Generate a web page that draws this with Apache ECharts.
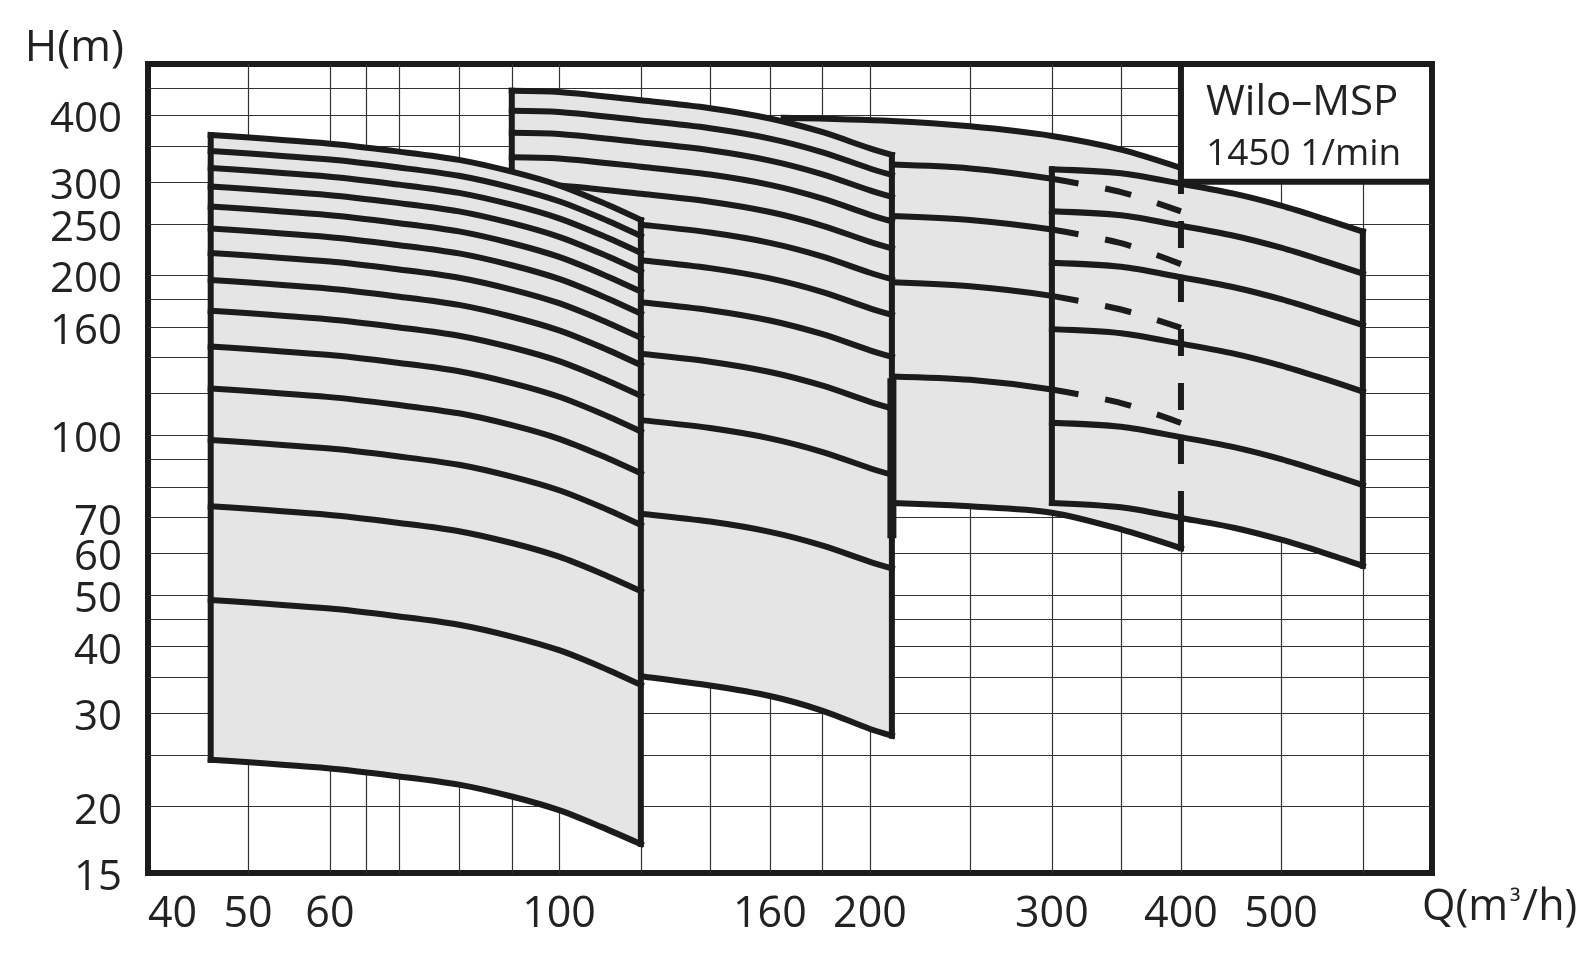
<!DOCTYPE html>
<html><head><meta charset="utf-8">
<script src="https://cdn.jsdelivr.net/npm/echarts@6/dist/echarts.min.js"></script>
<style>html,body{margin:0;padding:0;background:#fff}#c{width:1588px;height:961px}</style>
</head><body><div id="c"></div>
<script>
// ---------- axes ----------
const Q_GRID = [50,60,65,70,80,90,100,120,140,160,180,200,250,300,350,400,500,600];
const H_GRID = [20,25,30,35,40,45,50,60,70,80,90,100,120,140,160,180,200,250,300,350,400,450];
const Q_LABELS = [40,50,60,100,160,200,300,400,500];
const H_LABELS = [15,20,30,40,50,60,70,100,160,200,250,300,400];

// ---------- group 1 (Q 46..120), curves from 1 to 15 stages ----------
const G1_Q = [46, 60, 70, 80, 90, 100, 110, 120];
const G1_H = [
  [24.5, 23.6, 22.8, 22.0, 20.9, 19.7, 18.3, 17.0],
  [49.0, 47.2, 45.6, 44.0, 41.8, 39.4, 36.6, 33.9],
  [73.5, 70.8, 68.4, 66.0, 62.7, 59.1, 54.9, 50.9],
  [98.0, 94.4, 91.2, 88.0, 83.6, 78.8, 73.2, 67.8],
  [122.5, 118.0, 114.0, 110.0, 104.5, 98.5, 91.5, 84.8],
  [147.0, 141.6, 136.8, 132.0, 125.4, 118.2, 109.8, 101.7],
  [171.5, 165.2, 159.6, 154.0, 146.3, 137.9, 128.1, 118.7],
  [196.0, 188.8, 182.4, 176.0, 167.2, 157.6, 146.4, 135.6],
  [220.5, 212.4, 205.2, 198.0, 188.1, 177.3, 164.7, 152.6],
  [245.0, 236.0, 228.0, 220.0, 209.0, 197.0, 183.0, 169.5],
  [269.5, 259.6, 250.8, 242.0, 229.9, 216.7, 201.3, 186.5],
  [294.0, 283.2, 273.6, 264.0, 250.8, 236.4, 219.6, 203.4],
  [318.5, 306.8, 296.4, 286.0, 271.7, 256.1, 237.9, 220.4],
  [343.0, 330.4, 319.2, 308.0, 292.6, 275.8, 256.2, 237.3],
  [367.5, 354.0, 342.0, 330.0, 313.5, 295.5, 274.5, 254.3]
];

// ---------- group 2 (Q 90..210), 1 to 12 stages ----------
const G2_Q = [90, 100, 120, 140, 160, 180, 200, 210];
const G2_H = [
  [37.0, 36.8, 35.2, 33.8, 32.3, 30.3, 28.0, 27.2],
  [74.2, 73.8, 71.2, 68.8, 65.8, 62.0, 57.8, 56.2],
  [111.3, 110.7, 106.8, 103.2, 98.7, 93.0, 86.7, 84.3],
  [148.4, 147.6, 142.4, 137.6, 131.6, 124.0, 115.6, 112.4],
  [185.5, 184.5, 178.0, 172.0, 164.5, 155.0, 144.5, 140.5],
  [222.6, 221.4, 213.6, 206.4, 197.4, 186.0, 173.4, 168.6],
  [259.7, 258.3, 249.2, 240.8, 230.3, 217.0, 202.3, 196.7],
  [296.8, 295.2, 284.8, 275.2, 263.2, 248.0, 231.2, 224.8],
  [333.9, 332.1, 320.4, 309.6, 296.1, 279.0, 260.1, 252.9],
  [371.0, 369.0, 356.0, 344.0, 329.0, 310.0, 289.0, 281.0],
  [408.1, 405.9, 391.6, 378.4, 361.9, 341.0, 317.9, 309.1],
  [445.2, 442.8, 427.2, 412.8, 394.8, 372.0, 346.8, 337.2]
];

// ---------- group 3 (Q 165..400) ----------
const G3_Q = [165, 210, 250, 300, 350, 400];
const G3_H = [
  [75.2, 74.6, 73.5, 71.5, 66.5, 61.3],
  [null, 129.1, 127.2, 122.0, 115.0, 105.5],
  [null, 194.1, 190.8, 183.0, 172.5, 159.3],
  [null, 258.8, 254.4, 244.0, 230.0, 210.0],
  [null, 323.3, 318.0, 304.0, 287.0, 264.0],
  [396.0, 390.6, 381.6, 366.0, 345.0, 318.6]
];
const G3_DASH_FROM_Q = 300;

// ---------- group 4 (Q 300..600) ----------
const G4_Q = [300, 350, 400, 450, 500, 550, 600];
const G4_H = [
  [74.6, 73.2, 69.9, 67.0, 63.6, 60.1, 56.8],
  [105.6, 103.8, 99.2, 95.0, 90.2, 85.2, 80.6],
  [158.4, 155.7, 148.8, 142.5, 135.3, 127.8, 120.9],
  [211.2, 207.6, 198.4, 190.0, 180.4, 170.4, 161.2],
  [264.0, 259.5, 248.0, 237.5, 225.5, 213.0, 201.5],
  [316.8, 311.4, 297.6, 285.0, 270.6, 255.6, 241.8]
];

// short heavy segment on the Q=210 edge
const BAR_Q = [210, 210];
const BAR_H = [64, 128];

// info box
const BOX_Q = [400, 700];
const BOX_H = [300, 500];
const BOX_TEXT = ['Wilo\u2013MSP', '1450 1/min'];

// ---------- styles ----------
const INK = '#1b1b1b';
const FILL = '#e5e5e5';
const GRIDC = '#333333';
const FONT = 'Open Sans';
const LW = 6;

function pairs(qs, hs) {
  const d = [];
  qs.forEach((q, i) => { if (hs[i] != null) d.push([q, hs[i]]); });
  return d;
}
function fillSeries(qs, bottom, top, z) {
  const pts = pairs(qs, top).concat(pairs(qs, bottom).reverse());
  return {
    type: 'custom', coordinateSystem: 'cartesian2d', silent: true, z: z, data: pts,
    animation: false,
    renderItem: function (params, api) {
      if (params.dataIndex !== 0) return null;
      return { type: 'polygon', shape: { points: pts.map(p => api.coord(p)) },
               style: { fill: FILL, stroke: null } };
    }
  };
}
function lineSeries(data, z, extra) {
  return Object.assign({
    type: 'line', data: data, z: z, smooth: 0.3, symbol: 'none', showSymbol: false,
    silent: true, animation: false,
    lineStyle: { color: INK, width: LW, cap: 'square', join: 'round' }
  }, extra || {});
}
function edge(q, h0, h1, z) {
  return lineSeries([[q, h0], [q, h1]], z, { smooth: false });
}

const series = [];
function addGroup(qs, hs, zFill, edges) {
  series.push(fillSeries(qs, hs[0], hs[hs.length - 1], zFill));
  hs.forEach(h => series.push(lineSeries(pairs(qs, h), zFill + 1)));
  edges.forEach(e => series.push(edge(e[0], e[1], e[2], zFill + 1)));
}
const last = a => a[a.length - 1];

// group 3 (bottom layer)
addGroup(G3_Q, G3_H, 3, [[last(G3_Q), last(G3_H[0]), last(last(G3_H))]]);
// group 2
addGroup(G2_Q, G2_H, 5, [
  [G2_Q[0], G2_H[0][0], last(G2_H)[0]],
  [last(G2_Q), last(G2_H[0]), last(last(G2_H))]
]);
series.push(lineSeries([[BAR_Q[0], BAR_H[0]], [BAR_Q[1], BAR_H[1]]], 6,
  { smooth: false, lineStyle: { color: INK, width: 9, cap: 'butt' } }));
// group 1
addGroup(G1_Q, G1_H, 7, [
  [G1_Q[0], G1_H[0][0], last(G1_H)[0]],
  [last(G1_Q), last(G1_H[0]), last(last(G1_H))]
]);
// group 4
addGroup(G4_Q, G4_H, 9, [
  [G4_Q[0], G4_H[0][0], last(G4_H)[0]],
  [last(G4_Q), last(G4_H[0]), last(last(G4_H))]
]);
// group 3 dashed continuation inside group 4
for (let k = 1; k < G3_H.length - 1; k++) {
  const d = pairs(G3_Q, G3_H[k]).filter(p => p[0] >= G3_DASH_FROM_Q);
  series.push(lineSeries(d, 11, { lineStyle: { color: INK, width: LW, type: [27, 27], cap: 'butt' } }));
}
const g4AtBoxQ = G4_Q.indexOf(last(G3_Q));
series.push(lineSeries([[last(G3_Q), G4_H[0][g4AtBoxQ]], [last(G3_Q), last(G4_H)[g4AtBoxQ]]], 11,
  { smooth: false, lineStyle: { color: INK, width: LW, type: [27, 27], cap: 'butt' } }));

// info box
series.push({
  type: 'custom', coordinateSystem: 'cartesian2d', silent: true, z: 12, animation: false,
  data: [[BOX_Q[0], BOX_H[0], BOX_Q[1], BOX_H[1]]],
  renderItem: function (params, api) {
    const p0 = api.coord([api.value(0), api.value(3)]);
    const p1 = api.coord([api.value(2), api.value(1)]);
    return { type: 'rect', shape: { x: p0[0], y: p0[1], width: p1[0] - p0[0], height: p1[1] - p0[1] },
             style: { fill: '#ffffff', stroke: INK, lineWidth: LW } };
  }
});

const chart = echarts.init(document.getElementById('c'), null, { renderer: 'canvas' });
chart.setOption({
  backgroundColor: '#ffffff',
  animation: false,
  grid: { left: 148, top: 64, width: 1284, height: 809, show: true,
          borderColor: INK, borderWidth: LW, backgroundColor: 'transparent' },
  xAxis: {
    type: 'log', logBase: 10, min: 40, max: 700,
    axisLine: { show: false },
    axisTick: { show: false, customValues: Q_GRID },
    splitLine: { show: true, lineStyle: { color: GRIDC, width: 1.2 } },
    minorSplitLine: { show: false },
    axisLabel: { customValues: Q_LABELS, formatter: '{value}', fontFamily: FONT, fontSize: 43,
                 color: '#222', margin: 20, alignMinLabel: 'left' }
  },
  yAxis: {
    type: 'log', logBase: 10, min: 15, max: 500,
    axisLine: { show: false },
    axisTick: { show: false, customValues: H_GRID },
    splitLine: { show: true, lineStyle: { color: GRIDC, width: 1.2 } },
    axisLabel: { customValues: H_LABELS, formatter: '{n|{value}}', color: '#222', margin: 26,
                 rich: { n: { fontFamily: FONT, fontSize: 42, color: '#222', padding: [10, 0, 0, 0] } } }
  },
  graphic: [
    { type: 'text', right: 1588 - 124, top: 26, z: 100,
      style: { text: 'H(m)', font: '44px "Open Sans"', fill: '#222' } },
    { type: 'text', left: 1422, top: 886, z: 100,
      style: { text: 'Q(m{s|\u00b3}/h)', font: '43px "Open Sans"', fill: '#222',
               rich: { s: { fontSize: 30, fontFamily: FONT, fill: '#222', padding: [0, 2, 6, 2] } } } },
    { type: 'text', left: 1206, top: 82, z: 100,
      style: { text: BOX_TEXT[0], font: '42px "Open Sans"', fill: '#222' } },
    { type: 'text', left: 1206, top: 136, z: 100,
      style: { text: BOX_TEXT[1], font: '37px "Open Sans"', fill: '#222' } }
  ],
  series: series
});
</script>
</body></html>
